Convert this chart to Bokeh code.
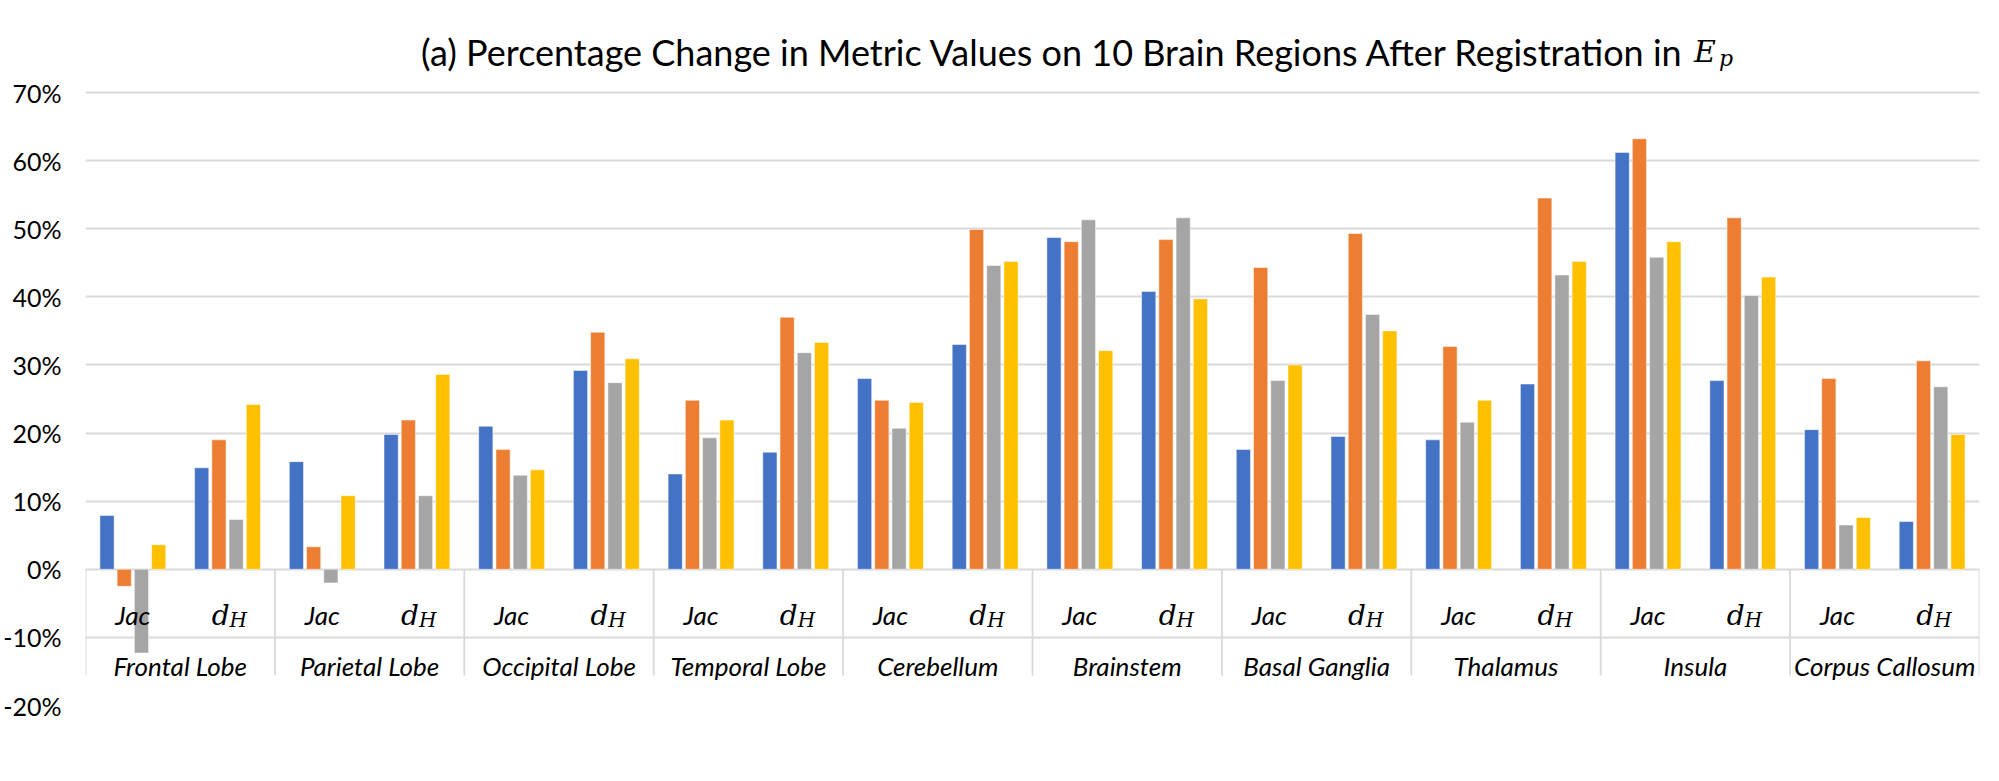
from bokeh.plotting import figure
from bokeh.models import FactorRange, Range1d, ColumnDataSource, NumeralTickFormatter, FixedTicker, Label
from bokeh.transform import dodge
from bokeh.core.properties import value
from bokeh.embed import file_html
from bokeh.resources import INLINE

regions = ["Frontal Lobe", "Parietal Lobe", "Occipital Lobe", "Temporal Lobe", "Cerebellum",
           "Brainstem", "Basal Ganglia", "Thalamus", "Insula", "Corpus Callosum"]
metrics = ["Jac", "dH"]
y_ticks = [-0.2, -0.1, 0.0, 0.1, 0.2, 0.3, 0.4, 0.5, 0.6, 0.7]

# series values per region: Jac and d_H
s1_jac = [0.079, 0.158, 0.210, 0.140, 0.280, 0.487, 0.176, 0.190, 0.612, 0.205]
s1_dh  = [0.149, 0.198, 0.292, 0.172, 0.330, 0.408, 0.195, 0.272, 0.277, 0.070]
s2_jac = [-0.025, 0.033, 0.176, 0.248, 0.248, 0.481, 0.443, 0.327, 0.632, 0.280]
s2_dh  = [0.190, 0.219, 0.348, 0.370, 0.499, 0.484, 0.493, 0.545, 0.516, 0.306]
s3_jac = [-0.123, -0.020, 0.138, 0.193, 0.207, 0.513, 0.277, 0.216, 0.458, 0.065]
s3_dh  = [0.073, 0.108, 0.274, 0.318, 0.446, 0.516, 0.374, 0.432, 0.402, 0.268]
s4_jac = [0.036, 0.108, 0.146, 0.219, 0.245, 0.321, 0.300, 0.248, 0.481, 0.076]
s4_dh  = [0.242, 0.286, 0.309, 0.333, 0.452, 0.397, 0.350, 0.452, 0.429, 0.198]

title_text = "(a) Percentage Change in Metric Values on 10 Brain Regions After Registration in"

colors = ["#4472C4", "#ED7D31", "#A5A5A5", "#FFC000"]

factors = [(r, m) for r in regions for m in metrics]

def interleave(a, b):
    out = []
    for u, v in zip(a, b):
        out += [u, v]
    return out

src = ColumnDataSource(dict(
    x=factors,
    s1=interleave(s1_jac, s1_dh),
    s2=interleave(s2_jac, s2_dh),
    s3=interleave(s3_jac, s3_dh),
    s4=interleave(s4_jac, s4_dh),
))

xr = FactorRange(*factors)
xr.factor_padding = 0
xr.group_padding = 0
xr.subgroup_padding = 0
xr.range_padding = 0

# frame reaches the top of the canvas so the title can sit in the headroom above 70%
px_per_unit = 613 / 0.9
y_top = 0.7 + 92 / px_per_unit

p = figure(width=1983, height=765, x_range=xr, y_range=Range1d(-0.2, y_top),
           output_backend="svg", toolbar_location=None,
           min_border_left=76, min_border_right=4, min_border_top=0, min_border_bottom=60)
p.outline_line_color = None
p.background_fill_color = "white"
p.border_fill_color = "white"

p.xaxis.visible = False
p.xgrid.visible = False
p.ygrid.ticker = FixedTicker(ticks=y_ticks)
p.ygrid.grid_line_color = "#d9d9d9"
p.ygrid.grid_line_width = 1.8

p.yaxis.ticker = FixedTicker(ticks=y_ticks)
p.yaxis.formatter = NumeralTickFormatter(format="0%")
p.yaxis.axis_line_color = None
p.yaxis.major_tick_line_color = None
p.yaxis.minor_tick_line_color = None
p.yaxis.major_tick_out = 0
p.yaxis.major_tick_in = 0
p.yaxis.major_label_standoff = 24
p.yaxis.major_label_text_font = "Lato"
p.yaxis.major_label_text_font_size = "25px"
p.yaxis.major_label_text_color = "black"

# category table dividers
div_src = ColumnDataSource(dict(x=[(r, "Jac") for r in regions]))
p.segment(x0=dodge("x", -0.5, range=xr), x1=dodge("x", -0.5, range=xr), y0=0, y1=-0.156,
          source=div_src, line_color="#d9d9d9", line_width=1.8)
end_src = ColumnDataSource(dict(x=[(regions[-1], "dH")]))
p.segment(x0=dodge("x", 0.5, range=xr), x1=dodge("x", 0.5, range=xr), y0=0, y1=-0.156,
          source=end_src, line_color="#d9d9d9", line_width=1.8)

step = 0.182
offsets = [-1.5 * step, -0.5 * step, 0.5 * step, 1.5 * step]
for key, off, col in zip(["s1", "s2", "s3", "s4"], offsets, colors):
    p.vbar(x=dodge("x", off, range=xr), top=key, width=0.15, source=src,
           fill_color=col, line_color="white", line_width=1, line_alpha=0.5)

# category labels
jac_src = ColumnDataSource(dict(x=[(r, "Jac") for r in regions], text=["Jac"] * len(regions)))
p.text(x="x", y=-0.0675, text="text", source=jac_src, text_font=value("Lato"),
       text_font_style="italic", text_font_size="26px", text_align="center",
       text_baseline="alphabetic", text_color="black")
dh_src = ColumnDataSource(dict(x=[(r, "dH") for r in regions], d=["d"] * len(regions), h=["H"] * len(regions)))
p.text(x="x", y=-0.0675, text="d", source=dh_src, text_font=value("DejaVu Serif"),
       text_font_style="italic", text_font_size="28px", text_align="right", x_offset=2,
       text_baseline="alphabetic", text_color="black")
p.text(x="x", y=-0.0675, text="h", source=dh_src, text_font=value("DejaVu Serif"),
       text_font_style="italic", text_font_size="20px", text_align="left", x_offset=2, y_offset=5,
       text_baseline="alphabetic", text_color="black")
reg_src = ColumnDataSource(dict(x=[(r, "Jac") for r in regions], text=regions))
p.text(x=dodge("x", 0.5, range=xr), y=-0.142, text="text", source=reg_src, text_font=value("Lato"),
       text_font_style="italic", text_font_size="26px", text_align="center",
       text_baseline="alphabetic", text_color="black")

# title (anchored in the synthetic categorical coordinate of the frame)
title_x = 1607 / (1903 / len(factors))
title_y = 0.7 + 41 / px_per_unit
p.add_layout(Label(x=title_x, y=title_y, text=title_text,
                   text_align="right", text_baseline="alphabetic", text_font="Lato",
                   text_font_size="36px", text_color="black"))
p.add_layout(Label(x=title_x, y=title_y, x_offset=9, text="E",
                   text_baseline="alphabetic", text_font="DejaVu Serif", text_font_style="italic",
                   text_font_size="30px", text_color="black"))
p.add_layout(Label(x=title_x, y=title_y - 7 / px_per_unit, x_offset=34, text="p",
                   text_baseline="alphabetic", text_font="DejaVu Serif", text_font_style="italic",
                   text_font_size="22px", text_color="black"))

open("out.html", "w").write(file_html(p, INLINE))
